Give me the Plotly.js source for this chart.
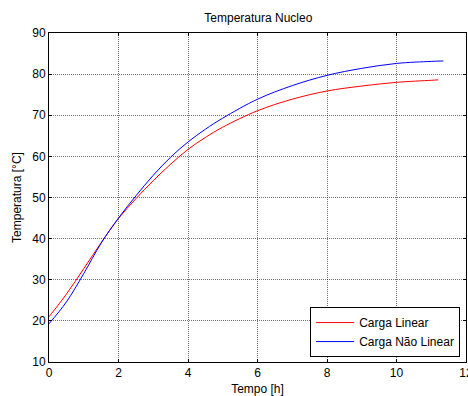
<!DOCTYPE html>
<html>
<head>
<meta charset="utf-8">
<script src="https://cdn.plot.ly/plotly-3.0.1.min.js"></script>
<style>html,body{margin:0;padding:0;background:#fff;}#chart{width:468px;height:396px;}</style>
</head>
<body>
<div id="chart"></div>
<script>
const tempo = [0, 0.5, 1, 1.5, 2, 2.5, 3, 3.5, 4, 4.5, 5, 6, 7, 8, 9, 10, 11, 11.2];
const cargaLinear = [21.0, 26.5, 32.7, 39.0, 44.9, 49.7, 54.1, 58.1, 61.7, 64.6, 67.1, 71.1, 73.9, 75.9, 77.1, 78.0, 78.5, 78.6];
const tempoNL = [0, 0.5, 1, 1.5, 2, 2.5, 3, 3.5, 4, 4.5, 5, 6, 7, 8, 9, 10, 11, 11.35];
const cargaNaoLinear = [19.3, 24.6, 31.5, 38.9, 45.0, 50.4, 55.4, 59.8, 63.5, 66.6, 69.3, 73.9, 77.2, 79.7, 81.4, 82.6, 83.1, 83.2];
const xTicks = [0, 2, 4, 6, 8, 10, 12];
const yTicks = [10, 20, 30, 40, 50, 60, 70, 80, 90];

const font = "Liberation Sans, Arial, sans-serif";
const traces = [
  {x: tempo, y: cargaLinear, type: 'scatter', mode: 'lines', name: 'Carga Linear',
   line: {color: '#ff0000', width: 1, shape: 'spline', smoothing: 1}},
  {x: tempoNL, y: cargaNaoLinear, type: 'scatter', mode: 'lines', name: 'Carga Não Linear',
   line: {color: '#0000ff', width: 1, shape: 'spline', smoothing: 1}}
];
const axisCommon = {
  showline: true, linecolor: '#000', linewidth: 1, mirror: 'ticks',
  ticks: 'inside', ticklen: 3, tickcolor: '#000',
  showgrid: true, gridcolor: 'rgba(0,0,0,0.55)', griddash: '1px,1px', gridwidth: 1,
  zeroline: false, tickfont: {family: font, size: 12, color: '#000'}, automargin: false,
  ticklabeloverflow: 'allow'
};
const layout = {
  width: 468, height: 396,
  margin: {l: 49, r: 2, t: 33, b: 34},
  paper_bgcolor: '#fff', plot_bgcolor: '#fff',
  font: {family: font, size: 12, color: '#000'},
  title: {text: 'Temperatura Nucleo', font: {family: font, size: 12, color: '#000'},
          x: 0.552, xanchor: 'center', y: 1 - 18/396, yanchor: 'middle', yref: 'container'},
  xaxis: Object.assign({}, axisCommon, {range: [0, 12], tickvals: xTicks, ticktext: xTicks.map(String),
    title: {text: 'Tempo [h]', font: {family: font, size: 12}, standoff: 10}}),
  yaxis: Object.assign({}, axisCommon, {range: [10, 90], tickvals: yTicks, ticktext: yTicks.map(String),
    title: {text: 'Temperatura [°C]', font: {family: font, size: 12}, standoff: 8}}),
  showlegend: true,
  legend: {x: 0.986, y: 0.015, xanchor: 'right', yanchor: 'bottom',
    bgcolor: '#fff', bordercolor: '#000', borderwidth: 1,
    font: {family: font, size: 12, color: '#000'}, tracegroupgap: 0, itemwidth: 38}
};
Plotly.newPlot('chart', traces, layout, {displayModeBar: false, staticPlot: true});
</script>
</body>
</html>
